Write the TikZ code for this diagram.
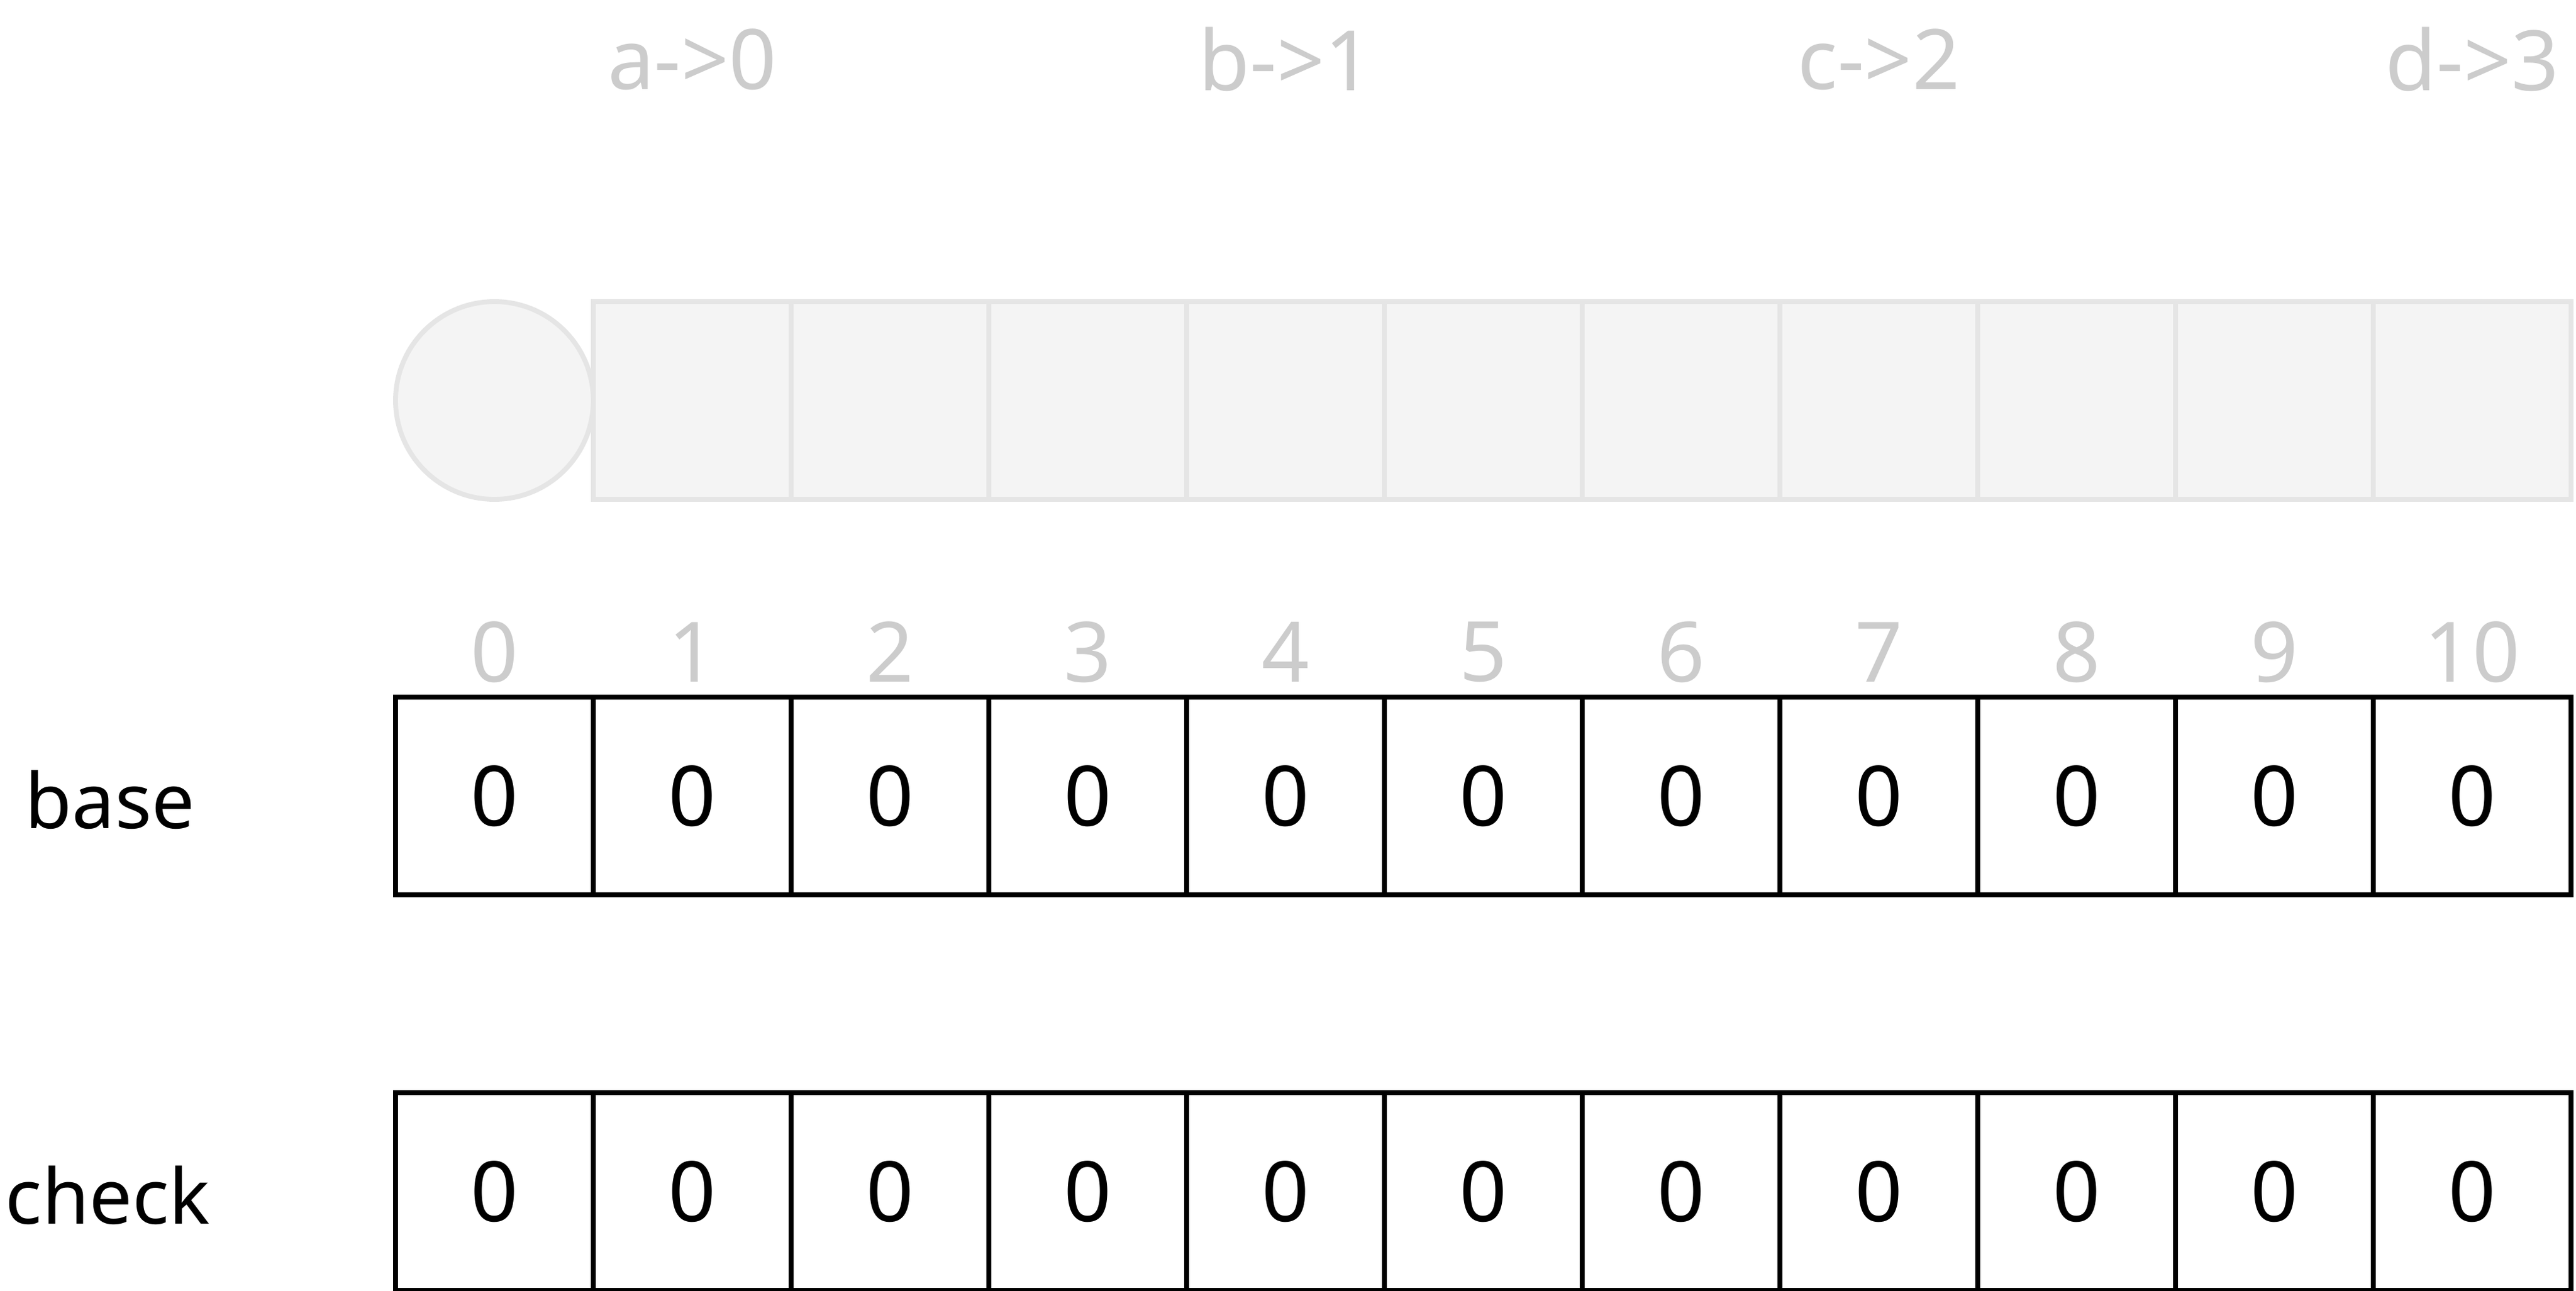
\documentclass[tikz,border=0pt]{standalone}
\usepackage{fontspec}
\setmainfont{Noto Sans}
\definecolor{lightedge}{HTML}{E5E5E5}
\definecolor{lightfill}{HTML}{F4F4F4}
\definecolor{labelgray}{HTML}{CCCCCC}
\begin{document}
\begin{tikzpicture}[
  cell/.style={draw=black, line width=0.7pt, minimum size=1cm, inner sep=0pt, font=\fontsize{12}{14}\selectfont},
  gcell/.style={draw=lightedge, fill=lightfill, line width=0.7pt, minimum size=1cm, inner sep=0pt},
  gcircle/.style={circle, draw=lightedge, fill=lightfill, line width=0.7pt, minimum size=1cm, inner sep=0pt},
  idx/.style={text=labelgray, inner sep=0pt, font=\fontsize{12}{14}\selectfont},
  toplabel/.style={text=labelgray, inner sep=0pt, font=\fontsize{12}{14}\selectfont},
  rowlabel/.style={text=black, inner sep=0pt, anchor=west, font=\fontsize{11}{13}\selectfont}
]
\useasboundingbox (0,0.0125) rectangle (13.025,-6.5125);
% top labels
\node[toplabel] (l0) at (3.5,-0.2875) {a->0};
\node[toplabel] (l1) at (6.5,-0.2875) {b->1};
\node[toplabel] (l2) at (9.5,-0.2875) {c->2};
\node[toplabel] (l3) at (12.5,-0.2875) {d->3};
% gray row
\node[gcircle] (g0) at (2.5,-2.0125) {};
\foreach \i in {1,...,10} {
  \node[gcell] (g\i) at (2.5+\i,-2.0125) {};
}
% index and arrays
\foreach \i in {0,...,10} {
  \node[idx] (i\i) at (2.5+\i,-3.284) {\i};
  \node[cell] (b\i) at (2.5+\i,-4.0125) {0};
  \node[cell] (c\i) at (2.5+\i,-6.0125) {0};
}
\node[rowlabel] (base) at (0.12,-4.03) {base};
\node[rowlabel] (check) at (0.02,-6.03) {check};
\end{tikzpicture}
\end{document}
